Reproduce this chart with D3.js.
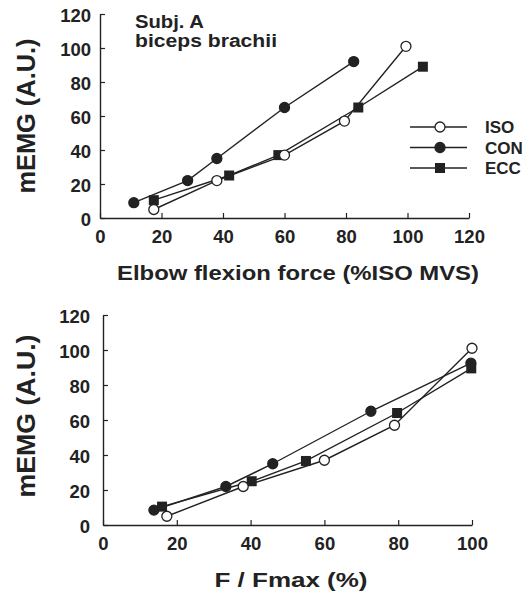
<!DOCTYPE html>
<html>
<head>
<meta charset="utf-8">
<script src="https://cdn.jsdelivr.net/npm/d3@7"></script>
<style>
  body { margin: 0; background: #fff; }
  svg text { font-family: "Liberation Sans", Arial, sans-serif; font-weight: bold; fill: #222; }
</style>
</head>
<body>
<div id="chart"></div>
<script>
// series names
var seriesNames = ['ISO', 'CON', 'ECC'];

// top panel: x = elbow flexion force (%ISO MVS), y = mEMG (A.U.)
var isoTopX = [17.5, 38, 60, 79.5, 99.5];
var isoTopY = [5, 22, 37, 57, 101];
var conTopX = [11, 28.5, 38, 60, 82.5];
var conTopY = [9, 22, 35, 65, 92];
var eccTopX = [17.5, 42, 58, 84, 105];
var eccTopY = [10.5, 25, 37, 65, 89];

// bottom panel: x = F / Fmax (%), y = mEMG (A.U.)
var isoBotX = [17.3, 38, 60, 79, 100];
var isoBotY = [5, 22, 37, 57, 101];
var conBotX = [13.8, 33.3, 46, 72.6, 99.7];
var conBotY = [8.5, 22, 35, 65, 92.5];
var eccBotX = [16, 40.3, 55, 79.7, 99.8];
var eccBotY = [10.5, 25, 36.6, 64, 89.5];

var yTicks = [0, 20, 40, 60, 80, 100, 120];
var xTicksTop = [0, 20, 40, 60, 80, 100, 120];
var xTicksBot = [0, 20, 40, 60, 80, 100];

var markers = { ISO: 'open', CON: 'circle', ECC: 'square' };
var ink = '#222';

var svg = d3.select('#chart').append('svg')
    .attr('width', 524)
    .attr('height', 601);

function zip(xs, ys) {
    return xs.map(function(x, i) { return [x, ys[i]]; });
}

function drawMarker(g, type, cx, cy) {
    if (type === 'square') {
        g.append('rect')
            .attr('x', cx - 5).attr('y', cy - 5)
            .attr('width', 10).attr('height', 10)
            .attr('fill', ink);
    } else {
        g.append('circle')
            .attr('cx', cx).attr('cy', cy).attr('r', 5)
            .attr('fill', type === 'open' ? '#fff' : ink)
            .attr('stroke', ink).attr('stroke-width', 1.3);
    }
}

function panel(opt) {
    var x = d3.scaleLinear().domain(opt.xDomain).range(opt.xRange);
    var y = d3.scaleLinear().domain([0, 120]).range(opt.yRange);
    var g = svg.append('g');

    var xAxis = g.append('g')
        .attr('transform', 'translate(0,' + opt.yRange[0] + ')')
        .call(d3.axisBottom(x).tickValues(opt.xTicks).tickSizeInner(-5).tickSizeOuter(0).tickPadding(12));
    var yAxis = g.append('g')
        .attr('transform', 'translate(' + opt.xRange[0] + ',0)')
        .call(d3.axisLeft(y).tickValues(yTicks).tickSizeInner(-5).tickSizeOuter(0).tickPadding(opt.yPad));

    [xAxis, yAxis].forEach(function(a) {
        a.select('.domain').attr('stroke', ink).attr('stroke-width', 1.4);
        a.selectAll('.tick line').attr('stroke', ink).attr('stroke-width', 1.2);
        a.selectAll('.tick text')
            .attr('fill', ink)
            .style('font-size', '18.5px');
    });
    yAxis.selectAll('.tick text').attr('dy', '0.38em');

    // x title
    g.append('text')
        .attr('x', opt.xTitlePos[0]).attr('y', opt.xTitlePos[1])
        .attr('text-anchor', 'middle')
        .attr('textLength', opt.xTitleLen)
        .attr('lengthAdjust', 'spacingAndGlyphs')
        .style('font-size', '21px')
        .text(opt.xTitle);

    // y title
    g.append('text')
        .attr('transform', 'translate(' + opt.yTitlePos[0] + ',' + opt.yTitlePos[1] + ') rotate(-90)')
        .attr('text-anchor', 'middle')
        .attr('textLength', opt.yTitleLen)
        .attr('lengthAdjust', 'spacingAndGlyphs')
        .style('font-size', '25px')
        .text('mEMG (A.U.)');

    var line = d3.line()
        .x(function(d) { return x(d[0]); })
        .y(function(d) { return y(d[1]); });

    var order = ['ECC', 'CON', 'ISO'];
    order.forEach(function(name) {
        var pts = opt.series[name];
        g.append('path')
            .attr('d', line(pts))
            .attr('fill', 'none')
            .attr('stroke', ink)
            .attr('stroke-width', 1.4);
    });
    order.forEach(function(name) {
        opt.series[name].forEach(function(d) {
            drawMarker(g, markers[name], x(d[0]), y(d[1]));
        });
    });
    return g;
}

var topPanel = panel({
    xDomain: [0, 120], xRange: [100, 469], yRange: [218, 14],
    xTicks: xTicksTop, yPad: 9,
    xTitle: 'Elbow flexion force (%ISO MVS)', xTitlePos: [298, 280], xTitleLen: 362,
    yTitlePos: [35, 116], yTitleLen: 155,
    series: {
        ISO: zip(isoTopX, isoTopY),
        CON: zip(conTopX, conTopY),
        ECC: zip(eccTopX, eccTopY)
    }
});

panel({
    xDomain: [0, 100], xRange: [103, 472], yRange: [525, 315],
    xTicks: xTicksBot, yPad: 13,
    xTitle: 'F / Fmax (%)', xTitlePos: [291, 587], xTitleLen: 153,
    yTitlePos: [35, 416], yTitleLen: 163,
    series: {
        ISO: zip(isoBotX, isoBotY),
        CON: zip(conBotX, conBotY),
        ECC: zip(eccBotX, eccBotY)
    }
});

// annotation
topPanel.append('text').attr('x', 135).attr('y', 28)
    .attr('textLength', 69).attr('lengthAdjust', 'spacingAndGlyphs')
    .style('font-size', '18px').text('Subj. A');
topPanel.append('text').attr('x', 135).attr('y', 47)
    .attr('textLength', 142).attr('lengthAdjust', 'spacingAndGlyphs')
    .style('font-size', '18px').text('biceps brachii');

// legend
var legend = topPanel.append('g').attr('transform', 'translate(410,127)');
seriesNames.forEach(function(name, i) {
    var row = legend.append('g').attr('transform', 'translate(0,' + (i * 20.5) + ')');
    row.append('line').attr('x1', 0).attr('x2', 57).attr('y1', 0).attr('y2', 0)
        .attr('stroke', ink).attr('stroke-width', 1.3);
    drawMarker(row, markers[name], 30, 0);
    row.append('text').attr('x', 75).attr('y', 6).style('font-size', '17px').text(name);
});
</script>
</body>
</html>
